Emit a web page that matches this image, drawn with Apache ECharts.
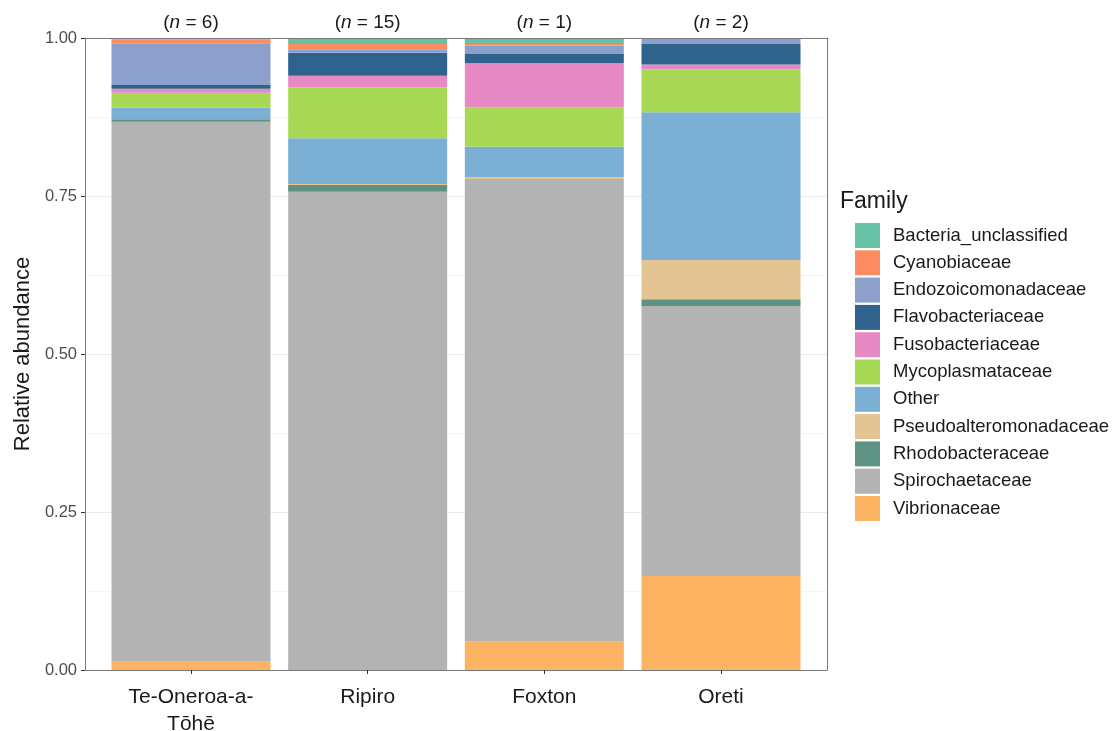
<!DOCTYPE html>
<html>
<head>
<meta charset="utf-8">
<title>Relative abundance by site</title>
<script src="https://cdn.jsdelivr.net/npm/echarts@6/dist/echarts.min.js"></script>
<style>
  html, body { margin: 0; padding: 0; background: #ffffff; }
  #chart { width: 1118px; height: 731px; }
</style>
</head>
<body>
<div id="chart"></div>
<script>
// Sites along the x axis and their sample counts
const sites = ['Te-Oneroa-a-Tōhē', 'Ripiro', 'Foxton', 'Oreti'];
const siteLabels = ['Te-Oneroa-a-\nTōhē', 'Ripiro', 'Foxton', 'Oreti'];
const sampleCounts = [6, 15, 1, 2];

// Families, listed top of stack first (legend order)
const families = [
  'Bacteria_unclassified', 'Cyanobiaceae', 'Endozoicomonadaceae',
  'Flavobacteriaceae', 'Fusobacteriaceae', 'Mycoplasmataceae', 'Other',
  'Pseudoalteromonadaceae', 'Rhodobacteraceae', 'Spirochaetaceae', 'Vibrionaceae'
];

// Relative abundance per family, one value per site (same order as sites)
const bacteriaUnclassified   = [0.0020, 0.0095, 0.0095, 0.0000];
const cyanobiaceae           = [0.0065, 0.0084, 0.0027, 0.0000];
const endozoicomonadaceae    = [0.0659, 0.0054, 0.0131, 0.0095];
const flavobacteriaceae      = [0.0058, 0.0364, 0.0147, 0.0325];
const fusobacteriaceae       = [0.0064, 0.0183, 0.0696, 0.0075];
const mycoplasmataceae       = [0.0237, 0.0807, 0.0624, 0.0681];
const other                  = [0.0183, 0.0723, 0.0484, 0.2337];
const pseudoalteromonadaceae = [0.0000, 0.0017, 0.0027, 0.0622];
const rhodobacteraceae       = [0.0038, 0.0105, 0.0000, 0.0105];
const spirochaetaceae        = [0.8546, 0.7568, 0.7321, 0.4273];
const vibrionaceae           = [0.0130, 0.0000, 0.0448, 0.1487];

// Y axis range and tick step
const yMin = 0;
const yMax = 1;
const yStep = 0.25;

const familyValues = {
  'Bacteria_unclassified': bacteriaUnclassified,
  'Cyanobiaceae': cyanobiaceae,
  'Endozoicomonadaceae': endozoicomonadaceae,
  'Flavobacteriaceae': flavobacteriaceae,
  'Fusobacteriaceae': fusobacteriaceae,
  'Mycoplasmataceae': mycoplasmataceae,
  'Other': other,
  'Pseudoalteromonadaceae': pseudoalteromonadaceae,
  'Rhodobacteraceae': rhodobacteraceae,
  'Spirochaetaceae': spirochaetaceae,
  'Vibrionaceae': vibrionaceae
};

const familyColors = {
  'Bacteria_unclassified': '#66c2a5',
  'Cyanobiaceae': '#fc8d62',
  'Endozoicomonadaceae': '#8da0cb',
  'Flavobacteriaceae': '#2f628c',
  'Fusobacteriaceae': '#e78ac3',
  'Mycoplasmataceae': '#a6d854',
  'Other': '#7bafd4',
  'Pseudoalteromonadaceae': '#e5c494',
  'Rhodobacteraceae': '#5e9282',
  'Spirochaetaceae': '#b3b3b3',
  'Vibrionaceae': '#fdb462'
};

const FONT = '"Liberation Sans", Arial, sans-serif';
const borderColor = '#7a7a7a';

// Panel box: grid 0 carries the frame, y scale and gridlines;
// grid 1 is inset so each site gets a category band of the same width
// (0.6 band padding on both ends of the discrete axis).
const panel = { left: 85, right: 291, top: 38, bottom: 61 };
const panelWidth = 1118 - panel.left - panel.right;
const band = panelWidth / (sites.length + 0.2);
const inset = band * 0.1;

// Stack from the bottom up: last family in the legend sits at the base
const series = families.slice().reverse().map(name => ({
  name: name,
  type: 'bar',
  stack: 'abundance',
  xAxisIndex: 2,
  yAxisIndex: 2,
  barCategoryGap: '10%',
  itemStyle: { color: familyColors[name] },
  emphasis: { disabled: true },
  data: familyValues[name]
}));

const chart = echarts.init(document.getElementById('chart'), null, { renderer: 'canvas' });

chart.setOption({
  animation: false,
  backgroundColor: '#ffffff',
  textStyle: { fontFamily: FONT },
  title: {
    text: 'Family',
    left: 840,
    top: 190,
    padding: 0,
    textStyle: { fontFamily: FONT, fontSize: 23, fontWeight: 'normal', color: '#1a1a1a' }
  },
  legend: {
    orient: 'vertical',
    left: 855,
    top: 223,
    padding: 0,
    icon: 'rect',
    itemWidth: 25,
    itemHeight: 25,
    itemGap: 2.3,
    selectedMode: false,
    data: families,
    textStyle: { fontFamily: FONT, fontSize: 18.5, color: '#1a1a1a', padding: [0, 0, 0, 8] }
  },
  grid: [
    {
      left: panel.left, right: panel.right, top: panel.top, bottom: panel.bottom,
      containLabel: false, outerBoundsMode: 'none'
    },
    {
      left: panel.left + inset,
      right: panel.right + inset,
      top: panel.top,
      bottom: panel.bottom,
      containLabel: false,
      outerBoundsMode: 'none'
    }
  ],
  xAxis: [
    // frame: bottom edge
    {
      gridIndex: 0, type: 'value', min: 0, max: 1, position: 'bottom', z: 10,
      axisLine: { show: true, onZero: false, lineStyle: { color: borderColor, width: 1 } },
      axisTick: { show: false }, axisLabel: { show: false }, splitLine: { show: false }
    },
    // frame: top edge
    {
      gridIndex: 0, type: 'value', min: 0, max: 1, position: 'top', z: 10,
      axisLine: { show: true, onZero: false, lineStyle: { color: borderColor, width: 1 } },
      axisTick: { show: false }, axisLabel: { show: false }, splitLine: { show: false }
    },
    // site categories with ticks and names
    {
      gridIndex: 1, type: 'category', data: sites, position: 'bottom', z: 10,
      axisLine: { show: false },
      axisTick: { show: true, alignWithLabel: true, length: 4, lineStyle: { color: '#333333' } },
      axisLabel: {
        interval: 0,
        margin: 14,
        fontFamily: FONT,
        fontSize: 21,
        lineHeight: 27,
        color: '#1a1a1a',
        formatter: (v, i) => siteLabels[i]
      },
      splitLine: { show: false }
    },
    // sample counts above the panel
    {
      gridIndex: 1, type: 'category', data: sites, position: 'top',
      axisLine: { show: false },
      axisTick: { show: false },
      axisLabel: {
        interval: 0,
        margin: 6,
        fontFamily: FONT,
        fontSize: 19,
        color: '#1a1a1a',
        formatter: (v, i) => '({it|n} = ' + sampleCounts[i] + ')',
        rich: {
          it: { fontStyle: 'italic', fontFamily: FONT, fontSize: 19, color: '#1a1a1a' }
        }
      },
      splitLine: { show: false }
    }
  ],
  yAxis: [
    // y scale, labels, gridlines and left edge
    {
      gridIndex: 0,
      type: 'value',
      position: 'left',
      min: yMin,
      max: yMax,
      interval: yStep,
      name: 'Relative abundance',
      nameLocation: 'middle',
      nameGap: 48,
      nameTextStyle: { fontFamily: FONT, fontSize: 22, color: '#1a1a1a' },
      axisLine: { show: true, lineStyle: { color: borderColor, width: 1 } },
      axisTick: { show: true, length: 4, lineStyle: { color: '#333333' } },
      axisLabel: {
        margin: 8,
        fontFamily: FONT,
        fontSize: 16.5,
        color: '#4d4d4d',
        formatter: v => v.toFixed(2)
      },
      splitLine: { show: true, lineStyle: { color: '#ebebeb', width: 1 } },
      minorTick: { show: false, splitNumber: 2 },
      minorSplitLine: { show: true, lineStyle: { color: '#f5f5f5', width: 1 } }
    },
    // frame: right edge
    {
      gridIndex: 0, type: 'value', position: 'right', min: yMin, max: yMax, z: 10,
      axisLine: { show: true, onZero: false, lineStyle: { color: borderColor, width: 1 } },
      axisTick: { show: false }, axisLabel: { show: false }, splitLine: { show: false }
    },
    // value scale for the bars
    {
      gridIndex: 1, type: 'value', min: yMin, max: yMax,
      axisLine: { show: false }, axisTick: { show: false },
      axisLabel: { show: false }, splitLine: { show: false }
    }
  ],
  series: series
});
</script>
</body>
</html>
